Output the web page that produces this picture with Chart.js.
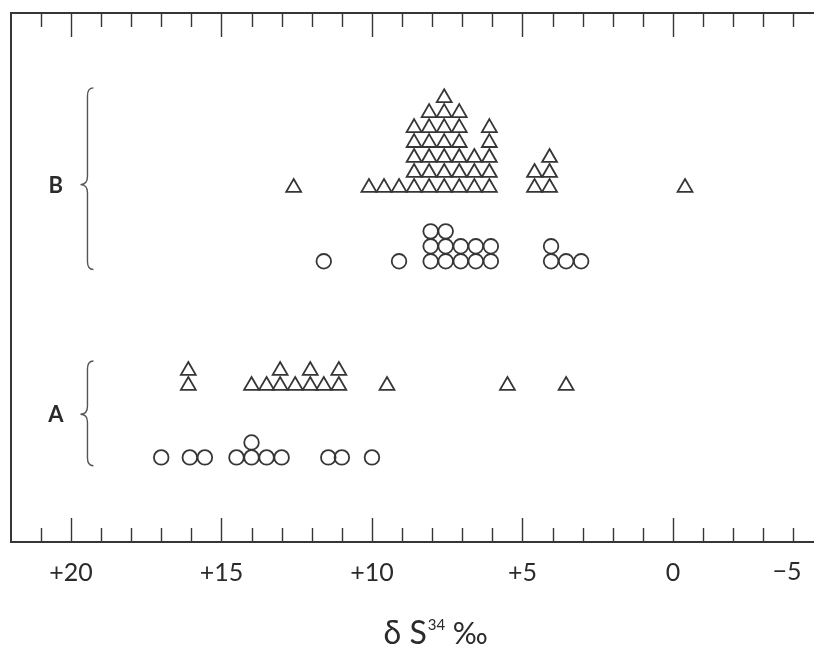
<!DOCTYPE html>
<html>
<head>
<meta charset="utf-8">
<script src="https://cdn.jsdelivr.net/npm/chart.js@4.4.1/dist/chart.umd.min.js"></script>
<style>
  html, body { margin: 0; padding: 0; background: #ffffff; }
  canvas { display: block; }
</style>
</head>
<body>
<canvas id="chart" width="814" height="656"></canvas>
<script>
// δS34 values (per mil) and how many samples share each value
const xTickLabels = [20, 15, 10, 5, 0];

const bTriValues = [12.6, 10.1, 9.6, 9.1, 8.6, 8.1, 7.6, 7.1, 6.6, 6.1, 4.6, 4.1, -0.4];
const bTriCounts = [1, 1, 1, 1, 5, 6, 7, 6, 3, 5, 2, 3, 1];

const bCircValues = [11.6, 9.1, 8.05, 7.55, 7.05, 6.55, 6.05, 4.05, 3.55, 3.05];
const bCircCounts = [1, 1, 3, 3, 2, 2, 2, 2, 1, 1];

const aTriValues = [16.1, 14.0, 13.5, 13.05, 12.55, 12.05, 11.6, 11.1, 9.5, 5.5, 3.55];
const aTriCounts = [2, 1, 1, 2, 1, 2, 1, 2, 1, 1, 1];

const aCircValues = [17.0, 16.05, 15.55, 14.5, 14.0, 13.5, 13.0, 11.45, 11.0, 10.0];
const aCircCounts = [1, 1, 1, 1, 2, 1, 1, 1, 1, 1];

const groupNames = ['B', 'A'];

// --- layout (y in "stack rows") ---
const ROWS = 35.333;
const base = { bTri: 23.67, bCirc: 18.75, aTri: 10.45, aCirc: 5.65 };
const braces = [
  { label: 'B', top: 30.33, bottom: 18.2, mid: 23.87 },
  { label: 'A', top: 12.09, bottom: 5.09, mid: 8.53 },
];
const INK = '#363636';

function stack(values, counts, y0) {
  const pts = [];
  values.forEach((v, i) => {
    for (let k = 0; k < counts[i]; k++) pts.push({ x: v, y: y0 + k });
  });
  return pts;
}

function markerSet(label, pts, style) {
  return {
    label,
    data: pts,
    pointStyle: style,
    pointRadius: style === 'triangle' ? 8.6 : 7.3,
    pointBorderWidth: 1.8,
    pointBorderColor: INK,
    pointBackgroundColor: 'rgba(255,255,255,0)',
    showLine: false,
  };
}

// frame, ticks inside the box, braces, title
const framePlugin = {
  id: 'frame',
  afterDraw(chart) {
    const { ctx, chartArea: ca, scales: { x, y } } = chart;
    ctx.save();
    ctx.strokeStyle = INK;
    ctx.lineCap = 'butt';

    // box (no right edge, the scan is cut)
    ctx.lineWidth = 2;
    ctx.beginPath();
    ctx.moveTo(ca.right, ca.top);
    ctx.lineTo(ca.left, ca.top);
    ctx.lineTo(ca.left, ca.bottom);
    ctx.lineTo(ca.right, ca.bottom);
    ctx.stroke();

    // tick marks every unit, longer every 5
    ctx.lineWidth = 1.4;
    for (let v = Math.ceil(x.min); v <= Math.floor(x.max); v++) {
      const px = Math.round(x.getPixelForValue(v)) + 0.5;
      const len = v % 5 === 0 ? 24 : 14;
      ctx.beginPath();
      ctx.moveTo(px, ca.top);
      ctx.lineTo(px, ca.top + len);
      ctx.moveTo(px, ca.bottom);
      ctx.lineTo(px, ca.bottom - len);
      ctx.stroke();
    }

    // -5 label sits at the cut right edge
    ctx.fillStyle = '#2b2b2b';
    ctx.font = '25px Lato, "DejaVu Sans", sans-serif';
    ctx.textAlign = 'center';
    ctx.textBaseline = 'middle';
    ctx.fillText('\u22125', ca.right - 27, ca.bottom + 30);

    // braces with group letters
    ctx.strokeStyle = '#555555';
    ctx.lineWidth = 1.4;
    const bx = x.getPixelForValue(19.45);
    braces.forEach((b) => {
      const t = y.getPixelForValue(b.top);
      const bt = y.getPixelForValue(b.bottom);
      const m = y.getPixelForValue(b.mid);
      ctx.beginPath();
      ctx.moveTo(bx + 6, t);
      ctx.quadraticCurveTo(bx, t, bx, t + 8);
      ctx.lineTo(bx, m - 8);
      ctx.quadraticCurveTo(bx, m, bx - 7, m);
      ctx.quadraticCurveTo(bx, m, bx, m + 8);
      ctx.lineTo(bx, bt - 8);
      ctx.quadraticCurveTo(bx, bt, bx + 6, bt);
      ctx.stroke();

      ctx.fillStyle = '#2b2b2b';
      ctx.font = 'bold 22px Lato, "DejaVu Sans", sans-serif';
      ctx.fillText(b.label, x.getPixelForValue(20.5), m + 1);
    });

    // axis title: δS34 ‰
    const cx = x.getPixelForValue(7.9);
    const cy = 633;
    const partA = '\u03b4 S';
    const partB = '34';
    const partC = ' \u2030';
    ctx.font = '32px Lato, "DejaVu Sans", sans-serif';
    const wA = ctx.measureText(partA).width;
    ctx.font = '30px Lato, "DejaVu Sans", sans-serif';
    const wC = ctx.measureText(partC).width;
    ctx.font = '15px Lato, "DejaVu Sans", sans-serif';
    const wB = ctx.measureText(partB).width;
    let sx = cx - (wA + wB + wC) / 2;
    ctx.textAlign = 'left';
    ctx.textBaseline = 'alphabetic';
    ctx.font = '32px Lato, "DejaVu Sans", sans-serif';
    ctx.fillText(partA, sx, cy + 11);
    sx += wA + 1;
    ctx.font = '15px Lato, "DejaVu Sans", sans-serif';
    ctx.fillText(partB, sx, cy - 3);
    sx += wB;
    ctx.font = '30px Lato, "DejaVu Sans", sans-serif';
    ctx.fillText(partC, sx, cy + 11);

    ctx.restore();
  },
};

new Chart(document.getElementById('chart'), {
  type: 'scatter',
  data: {
    datasets: [
      markerSet(groupNames[0] + ' triangles', stack(bTriValues, bTriCounts, base.bTri), 'triangle'),
      markerSet(groupNames[0] + ' circles', stack(bCircValues, bCircCounts, base.bCirc), 'circle'),
      markerSet(groupNames[1] + ' triangles', stack(aTriValues, aTriCounts, base.aTri), 'triangle'),
      markerSet(groupNames[1] + ' circles', stack(aCircValues, aCircCounts, base.aCirc), 'circle'),
    ],
  },
  options: {
    responsive: false,
    animation: false,
    layout: { autoPadding: false, padding: { left: 11, top: 13, right: 0, bottom: 52 } },
    plugins: {
      legend: { display: false },
      tooltip: { enabled: false },
    },
    scales: {
      x: {
        type: 'linear',
        reverse: true,
        min: -4.684,
        max: 21.99,
        grid: { display: false, drawTicks: false },
        border: { display: false },
        afterBuildTicks(scale) {
          scale.ticks = xTickLabels.map((v) => ({ value: v }));
        },
        afterFit(scale) {
          // the plot runs off the right edge of the scan; no label padding
          scale.paddingLeft = 0;
          scale.paddingRight = 0;
        },
        ticks: {
          autoSkip: false,
          maxRotation: 0,
          padding: 16,
          color: '#2b2b2b',
          font: { family: 'Lato, "DejaVu Sans", sans-serif', size: 25 },
          callback: (v) => (v > 0 ? '+' + v : String(v)),
        },
      },
      y: { display: false, min: 0, max: ROWS },
    },
  },
  plugins: [framePlugin],
});
</script>
</body>
</html>
